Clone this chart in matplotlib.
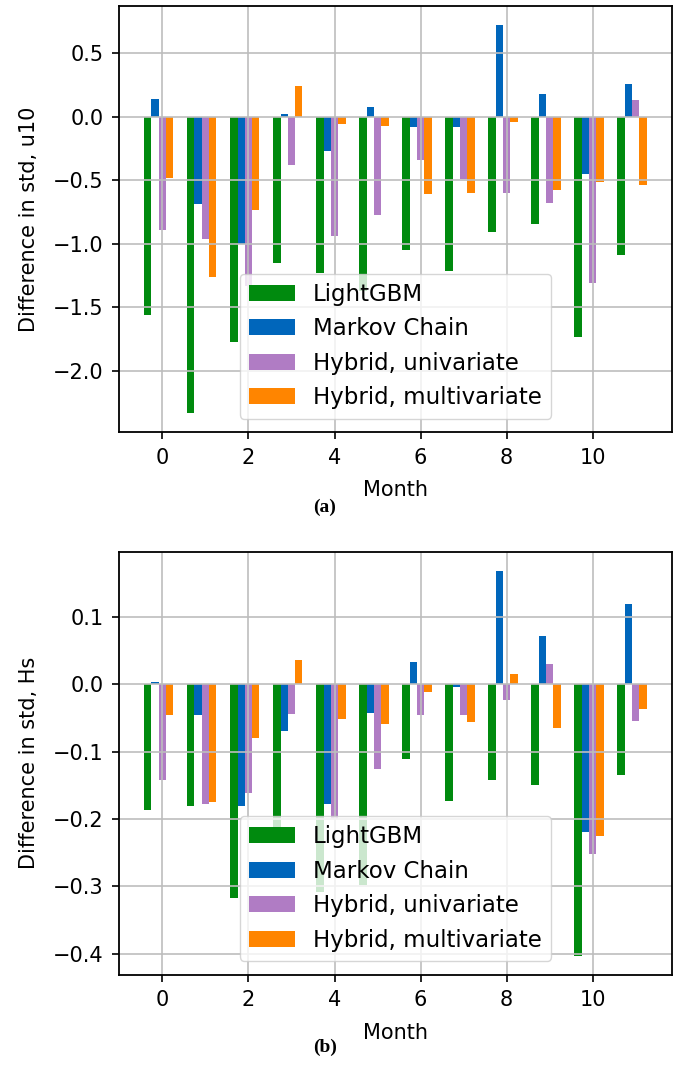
import numpy as np
import matplotlib
matplotlib.use("Agg")
import matplotlib.pyplot as plt

# monthly difference in standard deviation, per model
months = np.arange(12)
labels = ["LightGBM", "Markov Chain", "Hybrid, univariate", "Hybrid, multivariate"]
colors = ["#008a0e", "#0066bb", "#b07cc4", "#ff8500"]

lgbm_u10 = [-1.56, -2.33, -1.77, -1.15, -1.23, -1.37, -1.05, -1.21, -0.91, -0.84, -1.73, -1.09]
markov_u10 = [0.14, -0.69, -1.00, 0.02, -0.27, 0.08, -0.08, -0.08, 0.72, 0.18, -0.45, 0.26]
hyb_uni_u10 = [-0.89, -0.96, -1.33, -0.38, -0.94, -0.77, -0.34, -0.49, -0.60, -0.68, -1.31, 0.13]
hyb_multi_u10 = [-0.48, -1.26, -0.73, 0.245, -0.06, -0.07, -0.61, -0.60, -0.04, -0.58, -0.51, -0.54]

lgbm_hs = [-0.186, -0.180, -0.318, -0.214, -0.308, -0.298, -0.111, -0.173, -0.142, -0.149, -0.403, -0.135]
markov_hs = [0.003, -0.046, -0.180, -0.069, -0.177, -0.043, 0.034, -0.004, 0.169, 0.072, -0.219, 0.119]
hyb_uni_hs = [-0.142, -0.177, -0.162, -0.044, -0.200, -0.126, -0.046, -0.046, -0.023, 0.031, -0.252, -0.054]
hyb_multi_hs = [-0.046, -0.175, -0.080, 0.037, -0.051, -0.059, -0.011, -0.056, 0.016, -0.064, -0.226, -0.037]

width = 0.17
offsets = [-2 * width, -width, 0, width]


def draw_panel(ax, series, ylabel):
    for vals, off, col, lab in zip(series, offsets, colors, labels):
        ax.bar(months + off, vals, width=width, color=col, label=lab)
    ax.grid(True, color="#bdbdbd", linewidth=1.2)
    ax.set_xlabel("Month", fontsize=15, labelpad=9)
    ax.set_ylabel(ylabel, fontsize=15, labelpad=10)
    ax.tick_params(labelsize=15, length=5, width=1.2, pad=6)
    for sp in ax.spines.values():
        sp.set_linewidth(1.3)
    ax.legend(loc="lower center", fontsize=16.5, borderaxespad=0.6)


fig = plt.figure(figsize=(6.8, 10.7), dpi=100)
ax1 = fig.add_axes([0.175, 0.596, 0.813, 0.3985])
ax2 = fig.add_axes([0.175, 0.089, 0.813, 0.3955])

draw_panel(ax1, [lgbm_u10, markov_u10, hyb_uni_u10, hyb_multi_u10], "Difference in std, u10")
ax1.set_yticks([0.5, 0.0, -0.5, -1.0, -1.5, -2.0])

draw_panel(ax2, [lgbm_hs, markov_hs, hyb_uni_hs, hyb_multi_hs], "Difference in std, Hs")
ax2.set_yticks([0.1, 0.0, -0.1, -0.2, -0.3, -0.4])

for ax in (ax1, ax2):
    ax.set_xticks([0, 2, 4, 6, 8, 10])

fig.text(0.478, 0.526, "(a)", ha="center", va="center", fontsize=14,
         fontweight="bold", family="Liberation Serif")
fig.text(0.478, 0.021, "(b)", ha="center", va="center", fontsize=14,
         fontweight="bold", family="Liberation Serif")

fig.savefig("out.png", dpi=100)
